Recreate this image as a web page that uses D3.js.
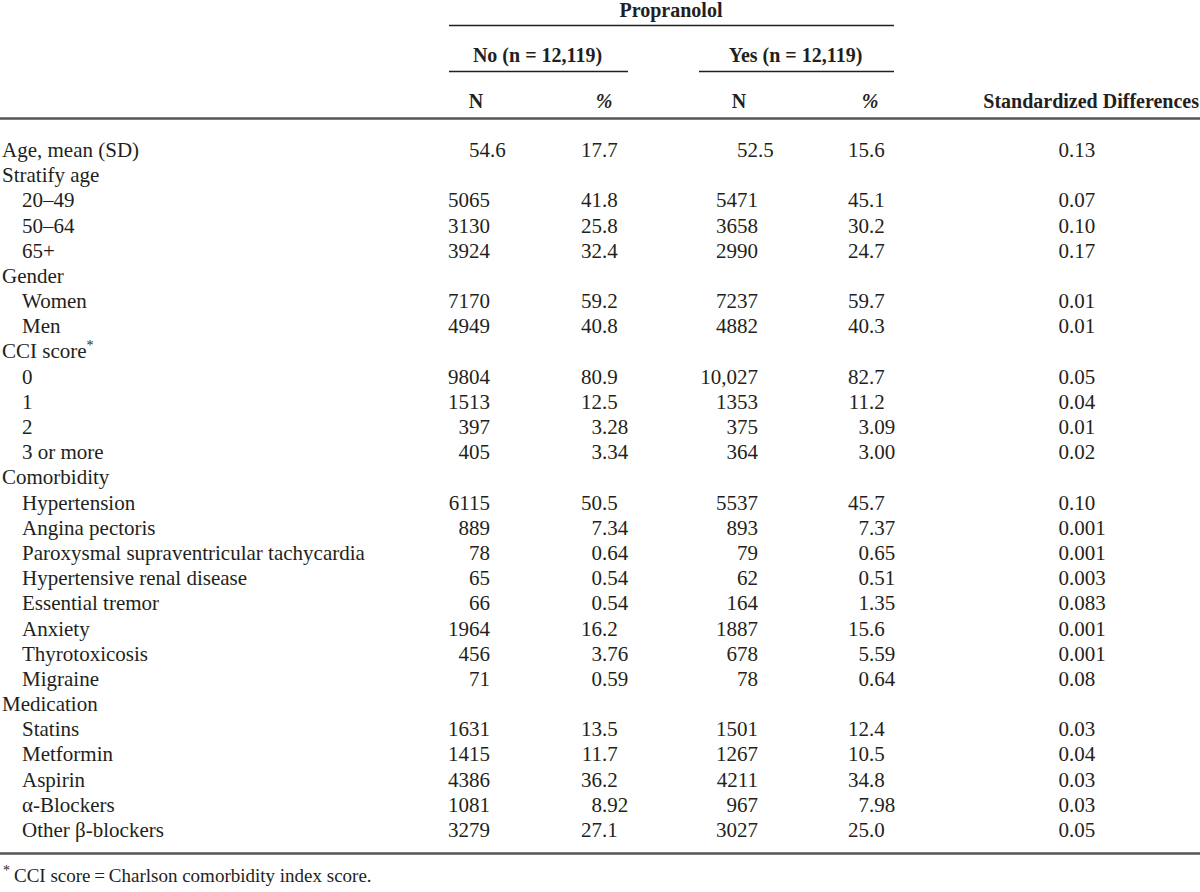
<!DOCTYPE html>
<html>
<head>
<meta charset="utf-8">
<script src="https://cdn.jsdelivr.net/npm/d3@7"></script>
<style>
  body { margin: 0; background: #fff; }
  svg text { font-family: 'Liberation Serif', 'Times New Roman', serif; fill: #231f20; }
</style>
</head>
<body>
<div id="table"></div>
<script>
// row labels, indent level (0 = group, 1 = item)
var labels = ['Age, mean (SD)', 'Stratify age', '20\u201349', '50\u201364', '65+',
  'Gender', 'Women', 'Men', 'CCI score', '0', '1', '2', '3 or more',
  'Comorbidity', 'Hypertension', 'Angina pectoris', 'Paroxysmal supraventricular tachycardia',
  'Hypertensive renal disease', 'Essential tremor', 'Anxiety', 'Thyrotoxicosis', 'Migraine',
  'Medication', 'Statins', 'Metformin', 'Aspirin', '\u03b1-Blockers', 'Other \u03b2-blockers']
var indent = [0, 0, 1, 1, 1, 0, 1, 1, 0, 1, 1, 1, 1, 0, 1, 1, 1, 1, 1, 1, 1, 1, 0, 1, 1, 1, 1, 1]

var noN = ['54.6', '', '5065', '3130', '3924', '', '7170', '4949', '', '9804', '1513', '397', '405',
  '', '6115', '889', '78', '65', '66', '1964', '456', '71', '', '1631', '1415', '4386', '1081', '3279']
var noPct = ['17.7', '', '41.8', '25.8', '32.4', '', '59.2', '40.8', '', '80.9', '12.5', '3.28', '3.34',
  '', '50.5', '7.34', '0.64', '0.54', '0.54', '16.2', '3.76', '0.59', '', '13.5', '11.7', '36.2', '8.92', '27.1']
var yesN = ['52.5', '', '5471', '3658', '2990', '', '7237', '4882', '', '10,027', '1353', '375', '364',
  '', '5537', '893', '79', '62', '164', '1887', '678', '78', '', '1501', '1267', '4211', '967', '3027']
var yesPct = ['15.6', '', '45.1', '30.2', '24.7', '', '59.7', '40.3', '', '82.7', '11.2', '3.09', '3.00',
  '', '45.7', '7.37', '0.65', '0.51', '1.35', '15.6', '5.59', '0.64', '', '12.4', '10.5', '34.8', '7.98', '25.0']
var stdDiff = ['0.13', '', '0.07', '0.10', '0.17', '', '0.01', '0.01', '', '0.05', '0.04', '0.01', '0.02',
  '', '0.10', '0.001', '0.001', '0.003', '0.083', '0.001', '0.001', '0.08', '', '0.03', '0.04', '0.03', '0.03', '0.05']

var width = 1200
var height = 892
var fontSize = 21
var headSize = 20

var svg = d3
  .select('#table')
  .append('svg')
  .attr('width', width)
  .attr('height', height)

// row baselines
var y = d3.scaleLinear()
  .domain([0, labels.length - 1])
  .range([157, 837])

// decimal-point position of each value column
var columns = [
  { values: noN, x: 490 },
  { values: noPct, x: 602 },
  { values: yesN, x: 758 },
  { values: yesPct, x: 869 },
  { values: stdDiff, x: 1069 }
]

// header
var header = svg.append('g').attr('font-size', headSize)

header.append('text')
  .attr('x', 671).attr('y', 17)
  .attr('text-anchor', 'middle')
  .style('font-weight', 'bold')
  .text('Propranolol')

header.append('line')
  .attr('x1', 449).attr('x2', 894).attr('y1', 25.5).attr('y2', 25.5)
  .attr('stroke', '#231f20').attr('stroke-width', 1.5)

var groups = [
  { text: 'No (n = 12,119)', x1: 449, x2: 628 },
  { text: 'Yes (n = 12,119)', x1: 699, x2: 894 }
]

header.selectAll('.grp')
  .data(groups)
  .enter()
  .append('text')
  .attr('class', 'grp')
  .attr('x', function(d) { return (d.x1 + d.x2) / 2 - 1 })
  .attr('y', 62)
  .attr('text-anchor', 'middle')
  .style('font-weight', 'bold')
  .text(function(d) { return d.text })

header.selectAll('.grp-line')
  .data(groups)
  .enter()
  .append('line')
  .attr('class', 'grp-line')
  .attr('x1', function(d) { return d.x1 })
  .attr('x2', function(d) { return d.x2 })
  .attr('y1', 71.5).attr('y2', 71.5)
  .attr('stroke', '#231f20').attr('stroke-width', 1.5)

var subHeads = [
  { text: 'N', x: 476, italic: false },
  { text: '%', x: 604, italic: true },
  { text: 'N', x: 739, italic: false },
  { text: '%', x: 870, italic: true }
]

header.selectAll('.sub')
  .data(subHeads)
  .enter()
  .append('text')
  .attr('class', 'sub')
  .attr('x', function(d) { return d.x })
  .attr('y', 108)
  .attr('text-anchor', 'middle')
  .style('font-weight', 'bold')
  .style('font-style', function(d) { return d.italic ? 'italic' : 'normal' })
  .text(function(d) { return d.text })

header.append('text')
  .attr('x', 1199).attr('y', 108)
  .attr('text-anchor', 'end')
  .style('font-weight', 'bold')
  .text('Standardized Differences')

// rules
svg.append('line')
  .attr('x1', 0).attr('x2', width).attr('y1', 118.5).attr('y2', 118.5)
  .attr('stroke', '#555').attr('stroke-width', 2.5)

svg.append('line')
  .attr('x1', 0).attr('x2', width).attr('y1', 853.5).attr('y2', 853.5)
  .attr('stroke', '#555').attr('stroke-width', 2.5)

// body
var body = svg.append('g').attr('font-size', fontSize)

var rowLabel = body.selectAll('.row-label')
  .data(labels)
  .enter()
  .append('text')
  .attr('class', 'row-label')
  .attr('x', function(d, i) { return indent[i] ? 22 : 2 })
  .attr('y', function(d, i) { return y(i) })
  .text(function(d) { return d })

// asterisk on CCI score
rowLabel.filter(function(d) { return d === 'CCI score' })
  .append('tspan')
  .attr('dy', -8)
  .attr('font-size', 14)
  .text('*')

columns.forEach(function(col, c) {
  var cells = body.selectAll('.cell' + c)
    .data(col.values.map(function(v, i) { return { v: v, i: i } }).filter(function(d) { return d.v !== '' }))
    .enter()

  // integer part ends at the decimal point
  cells.append('text')
    .attr('x', col.x)
    .attr('y', function(d) { return y(d.i) })
    .attr('text-anchor', 'end')
    .text(function(d) { return d.v.split('.')[0] })

  // fraction part starts at the decimal point
  cells.filter(function(d) { return d.v.indexOf('.') > -1 })
    .append('text')
    .attr('x', col.x)
    .attr('y', function(d) { return y(d.i) })
    .attr('text-anchor', 'start')
    .text(function(d) { return '.' + d.v.split('.')[1] })
})

// footnote
var foot = svg.append('text')
  .attr('x', 3)
  .attr('y', 882)
  .attr('font-size', 19)

foot.append('tspan')
  .attr('font-size', 14)
  .attr('dy', -7)
  .text('*')

foot.append('tspan')
  .attr('dx', 4)
  .attr('dy', 7)
  .text('CCI score\u2009=\u2009Charlson comorbidity index score.')
</script>
</body>
</html>
